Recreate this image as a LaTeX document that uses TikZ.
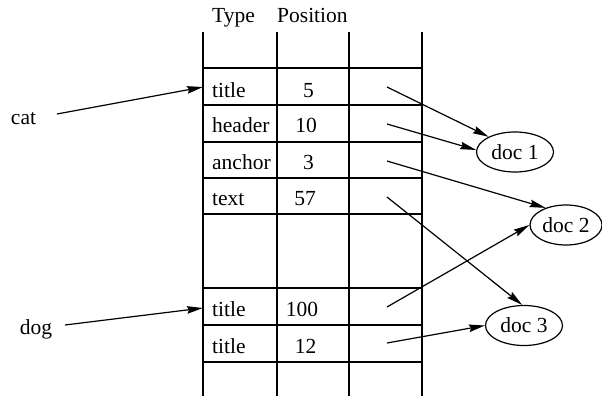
\documentclass[tikz,border=0pt]{standalone}
\usepackage{fontspec}
\setmainfont{Liberation Serif}
\usetikzlibrary{arrows.meta,shapes.geometric}
\begin{document}
\begin{tikzpicture}[x=1pt,y=-1pt,
  grid/.style={line width=1.2pt},
  lbl/.style={anchor=base, inner sep=0pt, font=\fontsize{21.5}{25}\selectfont},
  lbll/.style={lbl, anchor=base west},
  doc/.style={ellipse, draw, line width=1.2pt, minimum width=77pt, minimum height=40pt, inner sep=0pt, font=\fontsize{21.5}{25}\selectfont},
  ptr/.style={line width=1.2pt, -{Stealth[length=16pt,width=7.5pt,inset=2pt]}}]
\useasboundingbox (0,0) rectangle (602,398);
% grid
\draw[grid, line width=1.5pt] (203,32) -- (203,396);
\foreach \x in {277,349,422} \draw[grid] (\x,32) -- (\x,396);
\foreach \y in {68,105,142,178,214,288,325,362} \draw[grid] (203,\y) -- (422,\y);
% headers
\node[lbll] (hType) at (212,22.5) {Type};
\node[lbll] (hPos) at (277,22.5) {Position};
% rows
\node[lbll] (r1t) at (212,98) {title};   \node[lbl] (r1p) at (308.5,98) {5};
\node[lbll] (r2t) at (212,133) {header}; \node[lbl] (r2p) at (306,133) {10};
\node[lbll] (r3t) at (212,170) {anchor}; \node[lbl] (r3p) at (308.5,170) {3};
\node[lbll] (r4t) at (212,206) {text};   \node[lbl] (r4p) at (305,206) {57};
\node[lbll] (r5t) at (212,316) {title};  \node[lbl] (r5p) at (302,316) {100};
\node[lbll] (r6t) at (212,353) {title};  \node[lbl] (r6p) at (305.5,353) {12};
% pointer starts
\coordinate (s1) at (387,87);
\coordinate (s2) at (387,124);
\coordinate (s3) at (387,161);
\coordinate (s4) at (387,197);
\coordinate (s5) at (387,307);
\coordinate (s6) at (387,343);
% docs
\node[doc] (d1) at (515,152) {doc 1};
\node[doc, minimum width=72pt] (d2) at (566,225) {doc 2};
\node[doc] (d3) at (524,325.5) {doc 3};
% words
\node[lbl] (cat) at (23.5,125) {cat};
\node[lbl] (dog) at (36,334) {dog};
\coordinate (catfrom) at (57,114);
\coordinate (catto) at (203,87);
\coordinate (dogfrom) at (65,325);
\coordinate (dogto) at (203,308);
\draw[ptr] (catfrom) -- (catto);
\draw[ptr] (dogfrom) -- (dogto);
% pointers to docs
\draw[ptr] (s1) -- (d1.150);
\draw[ptr] (s2) -- (d1.177);
\draw[ptr] (s3) -- (d2.140);
\draw[ptr] (s4) -- (d3.95);
\draw[ptr] (s5) -- (d2.180);
\draw[ptr] (s6) -- (d3.180);
\end{tikzpicture}
\end{document}
